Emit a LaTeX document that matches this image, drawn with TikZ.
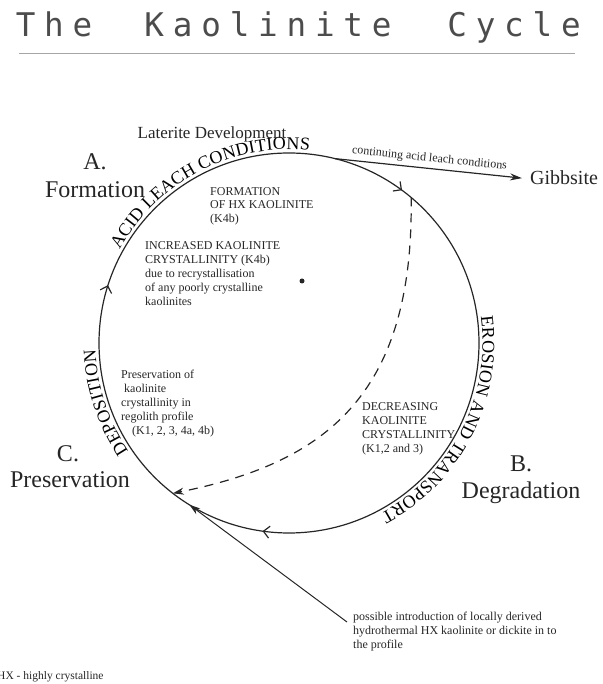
\documentclass[tikz,border=0pt]{standalone}
\usepackage{fontspec}
\setmainfont{Liberation Serif}
\newfontfamily\titlefont[LetterSpace=27]{DejaVu Sans Mono}
\usepackage{tikz}
\usetikzlibrary{arrows.meta}
\usetikzlibrary{decorations.markings}
\usetikzlibrary{decorations.text}

\tikzset{
    titleword/.style={anchor=base, inner sep=0pt, color=black!70, font=\titlefont\fontsize{32.6}{34}\selectfont},
    cycleline/.style={line width=1.2pt},
    cyclehead/.tip={Straight Barb[length=6pt,width=12pt]},
    stagelabel/.style={font=\fontsize{24}{27}\selectfont, inner sep=0pt, anchor=base},
    blocktext/.style={font=\fontsize{12}{14}\selectfont, align=left, inner sep=0pt, anchor=north west},
    pathtext/.style={decorate, decoration={text along path, text align=center, raise=3.5pt,
        text={|\fontsize{18}{18}\selectfont|#1}}},
}

\begin{document}
\begin{tikzpicture}[x=1pt, y=1pt, color=black!85]
        \useasboundingbox (0,0) rectangle (602,684);
        % Title
        \draw (54,647) node[titleword] (tthe) {The};
        \draw (268,647) node[titleword] (tkaolinite) {Kaolinite};
        \draw (514,647) node[titleword] (tcycle) {Cycle};
        \draw[black!35, line width=1pt] (19,630) -- (575,630);

        % Cycle with open arrow heads
        \coordinate (ctr) at (289,341);
        \draw[cycleline, postaction={decorate}, decoration={markings,
                mark=at position 0.1014 with {\arrow{cyclehead}},
                mark=at position 0.5222 with {\arrow{cyclehead}},
                mark=at position 0.7992 with {\arrow{cyclehead}}}]
            ([shift={(90:190)}]ctr) arc[start angle=90, end angle=-270, radius=190];

        % Texts along the cycle
        \path[pathtext={ACID LEACH CONDITIONS}]
            ([shift={(160:190)}]ctr) arc[start angle=160, end angle=75, radius=190];
        \path[pathtext={EROSION AND TRANSPORT}]
            ([shift={(20:190)}]ctr) arc[start angle=20, end angle=-74, radius=190];
        \path[pathtext={DEPOSITION}]
            ([shift={(240:190)}]ctr) arc[start angle=240, end angle=156, radius=190];

        % Stages
        \draw (212,545) node[anchor=base, inner sep=0pt, font=\fontsize{17}{20}\selectfont] (laterite) {Laterite Development};
        \draw (95,514) node[stagelabel] (a) {A.};
        \draw (95,486) node[stagelabel] (formation) {Formation};
        \draw (521,212) node[stagelabel] (b) {B.};
        \draw (521,185) node[stagelabel] (degradation) {Degradation};
        \draw (68,222) node[stagelabel] (c) {C.};
        \draw (70,196) node[stagelabel] (preservation) {Preservation};

        % Notes inside and around the cycle
        \draw (210,497) node[blocktext, font=\fontsize{12}{13.5}\selectfont] (hxform)
            {FORMATION\\OF HX KAOLINITE\\(K4b)};
        \draw (145,443) node[blocktext] (increased)
            {INCREASED KAOLINITE\\CRYSTALLINITY (K4b)\\due to recrystallisation\\of any poorly crystalline\\kaolinites};
        \draw (121,314) node[blocktext] (preserve)
            {Preservation of\\\hspace*{3pt}kaolinite\\crystallinity in\\regolith profile\\\hspace*{11pt}(K1, 2, 3, 4a, 4b)};
        \draw (362,282) node[blocktext] (decreasing)
            {DECREASING\\KAOLINITE\\CRYSTALLINITY\\(K1,2 and 3)};
        \draw (353,72) node[blocktext] (hydro)
            {possible introduction of locally derived\\hydrothermal HX kaolinite or dickite in to\\the profile};
        \draw (-3,5) node[anchor=base west, inner sep=0pt, font=\fontsize{11.5}{13}\selectfont] (hxnote)
            {HX - highly crystalline};
        \fill (302,403) circle (2.5);

        % Gibbsite branch
        \draw (522,499) node[anchor=base west, inner sep=0pt, inner xsep=8pt, font=\fontsize{20}{22}\selectfont] (gibbsite) {Gibbsite};
        \coordinate (branch) at ([shift={(76:190)}]ctr);
        \draw[cycleline, -{Stealth[length=12pt,width=7pt]}] (branch) -- (gibbsite.west)
            node[midway, above=0.5pt, sloped, font=\fontsize{12}{14}\selectfont] {continuing acid leach conditions};

        % Shortcut from formation to preservation
        \coordinate (dstart) at ([shift={(50:190)}]ctr);
        \coordinate (dend) at ([shift={(232.3:190)}]ctr);
        \draw[cycleline, dash pattern=on 9pt off 7pt, -{Stealth[length=11pt,width=7pt]}]
            (dstart) .. controls +(3,-200) and +(150,30) .. (dend);

        % Hydrothermal input
        \coordinate (inflow) at ([shift={(238.4:190)}]ctr);
        \draw[line width=1pt, -{Stealth[length=11pt,width=7pt]}] ([shift={(-6,-10)}]hydro.north west) -- (inflow);
    \end{tikzpicture}
\end{document}
